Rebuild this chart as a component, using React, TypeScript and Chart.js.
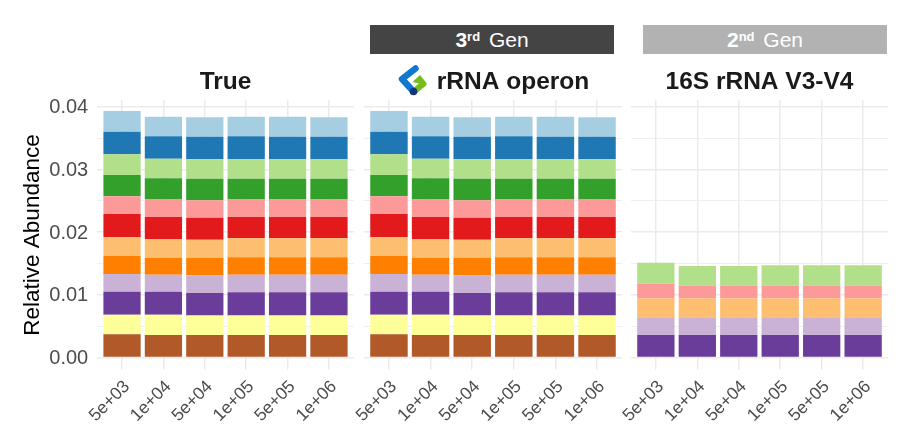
import React, { useEffect, useRef } from "react";
import { Chart, registerables } from "chart.js";

Chart.register(...registerables);

const FONT = "'Liberation Sans', Arial, sans-serif";

const categories = ["5e+03", "1e+04", "5e+04", "1e+05", "5e+05", "1e+06"];
const colors = ["#B15928", "#FFFF99", "#6A3D9A", "#CAB2D6", "#FF7F00", "#FDBF6F", "#E31A1C", "#FB9A99", "#33A02C", "#B2DF8A", "#1F78B4", "#A6CEE3"];

const brown = [0.0037, 0.0036, 0.0036, 0.0036, 0.0036, 0.0036];
const yellow = [0.0031, 0.0032, 0.0031, 0.0031, 0.0031, 0.0031];
const purple = [0.0037, 0.0037, 0.0036, 0.0037, 0.0037, 0.0037];
const lilac = [0.0028, 0.0027, 0.0028, 0.0028, 0.0028, 0.0028];
const orange = [0.0029, 0.0027, 0.0028, 0.0028, 0.0028, 0.0028];
const peach = [0.003, 0.003, 0.0029, 0.003, 0.003, 0.003];
const red = [0.0037, 0.0035, 0.0035, 0.0034, 0.0034, 0.0034];
const pink = [0.0028, 0.0028, 0.0028, 0.0028, 0.0028, 0.0028];
const green = [0.0034, 0.0034, 0.0034, 0.0033, 0.0033, 0.0033];
const lime = [0.0033, 0.0031, 0.0031, 0.0031, 0.0031, 0.0031];
const blue = [0.0036, 0.0036, 0.0036, 0.0037, 0.0036, 0.0036];
const sky = [0.0033, 0.0031, 0.0031, 0.0031, 0.0032, 0.0031];

const trueSeries = [brown, yellow, purple, lilac, orange, peach, red, pink, green, lime, blue, sky];

const v34Purple = [0.0036, 0.0036, 0.0036, 0.0036, 0.0036, 0.0036];
const v34Lilac = [0.0028, 0.0028, 0.0028, 0.0028, 0.0028, 0.0028];
const v34Peach = [0.003, 0.003, 0.003, 0.003, 0.003, 0.003];
const v34Pink = [0.0024, 0.0021, 0.0021, 0.0021, 0.0021, 0.0021];
const v34Lime = [0.0033, 0.0031, 0.0031, 0.0032, 0.0032, 0.0032];
const v34Series = [v34Purple, v34Lilac, v34Peach, v34Pink, v34Lime];
const v34Colors = ["#6A3D9A", "#CAB2D6", "#FDBF6F", "#FB9A99", "#B2DF8A"];

type Panel = {
  title: string; series: number[][]; palette: string[]; left: number; width: number;
  areaLeft: number; areaRight: number; showY: boolean; fullTitle: boolean;
};

const panels: Panel[] = [
  { title: "True", series: trueSeries, palette: colors, left: 0, width: 358, areaLeft: 97.2, areaRight: 353.8, showY: true, fullTitle: false },
  { title: "rRNA operon", series: trueSeries, palette: colors, left: 320, width: 386, areaLeft: 364, areaRight: 622, showY: false, fullTitle: true },
  { title: "16S rRNA V3-V4", series: v34Series, palette: v34Colors, left: 586, width: 310, areaLeft: 631, areaRight: 888, showY: false, fullTitle: false },
];

const BOTTOM = 357.5;

const yTitlePlugin = {
  id: "yTitle",
  afterDraw(chart: any, _a: any, opts: any) {
    if (!opts.text) return;
    const { ctx } = chart;
    ctx.save();
    ctx.translate(opts.x, opts.y);
    ctx.rotate(-Math.PI / 2);
    ctx.font = `22.5px ${FONT}`;
    ctx.fillStyle = "#000000";
    ctx.textAlign = "center";
    ctx.textBaseline = "middle";
    ctx.fillText(opts.text, 0, 0);
    ctx.restore();
  },
};

function PanelChart({ panel }: { panel: Panel }) {
  const ref = useRef<HTMLCanvasElement>(null);
  useEffect(() => {
    const axisWidth = panel.areaLeft - panel.left;
    const rightWidth = panel.left + panel.width - panel.areaRight;
    const chart = new Chart(ref.current!, {
      type: "bar",
      plugins: [yTitlePlugin],
      data: {
        datasets: panel.series.map((vals, i) => ({
          data: vals.map((y, k) => ({ x: k + 1, y })),
          backgroundColor: panel.palette[i],
          borderWidth: 0,
          barPercentage: 0.9,
          categoryPercentage: 1,
        })),
      },
      options: {
        responsive: false,
        animation: false,
        devicePixelRatio: 1,
        layout: { padding: 0 },
        plugins: {
          legend: { display: false },
          tooltip: { enabled: false },
          yTitle: panel.showY ? { text: "Relative Abundance", x: 33, y: 235 } : {},
          title: {
            display: true,
            text: panel.title,
            fullSize: panel.fullTitle,
            color: "#1A1A1A",
            font: { family: FONT, size: 24.5, weight: "bold", lineHeight: 1.2 },
            padding: { top: 67.5, bottom: 3.1 },
          },
        },
        scales: {
          x: {
            type: "linear",
            stacked: true,
            offset: false,
            min: 0.4,
            max: 6.6,
            afterBuildTicks: (s: any) => { s.ticks = categories.map((_, i) => ({ value: i + 1 })); },
            afterFit: (s: any) => { s.height = 439 - BOTTOM; },
            grid: { offset: false, color: "#EBEBEB", lineWidth: 1.5, tickColor: "#EBEBEB", tickLength: 12, drawTicks: true },
            border: { display: false },
            ticks: {
              autoSkip: false,
              minRotation: 45,
              maxRotation: 45,
              color: "#4D4D4D",
              padding: 7,
              labelOffset: 5,
              font: { family: FONT, size: 17.5 },
              callback: (v: any) => categories[Number(v) - 1] ?? "",
            },
          },
          y: {
            stacked: true,
            min: 0,
            max: 0.04107,
            afterBuildTicks: (s: any) => {
              s.ticks = [0, 0.005, 0.01, 0.015, 0.02, 0.025, 0.03, 0.035, 0.04].map((value) => ({ value }));
            },
            afterFit: (s: any) => { s.width = axisWidth; },
            grid: {
              drawTicks: false,
              color: "#EBEBEB",
              lineWidth: (c: any) => (Math.round(c.tick.value * 1000) % 10 === 0 ? 1.5 : 0.8),
            },
            border: { display: false },
            ticks: {
              display: panel.showY,
              color: "#4D4D4D",
              padding: 9,
              labelOffset: 1,
              font: { family: FONT, size: 20 },
              callback: (v: any) => (Math.round(Number(v) * 1000) % 10 === 0 ? Number(v).toFixed(2) : ""),
            },
          },
          spacer: {
            type: "linear",
            position: "right",
            display: true,
            afterFit: (s: any) => { s.width = rightWidth; },
            grid: { display: false },
            border: { display: false },
            ticks: { display: false },
          },
        },
      },
    } as any);
    return () => chart.destroy();
  }, [panel]);
  return (
    <canvas
      ref={ref}
      width={panel.width}
      height={439}
      style={{ position: "absolute", left: panel.left, top: 0, width: panel.width, height: 439 }}
    />
  );
}

function Strip({ left, width, bg, num, sup }: { left: number; width: number; bg: string; num: string; sup: string }) {
  return (
    <div
      style={{
        position: "absolute", left, top: 25, width, height: 29, background: bg, color: "#fff",
        font: `21px/30px ${FONT}`, textAlign: "center", whiteSpace: "pre",
      }}
    >
      <b>{num}<sup style={{ fontSize: 13, lineHeight: 0, verticalAlign: 6 }}>{sup}</sup></b>
      <span style={{ marginLeft: 3 }}> Gen</span>
    </div>
  );
}

export default function App() {
  useEffect(() => {
    document.body.style.margin = "0";
  }, []);
  return (
    <div style={{ position: "relative", width: 901, height: 439, background: "#fff", overflow: "hidden" }}>
      {panels.map((p) => <PanelChart key={p.title} panel={p} />)}
      <Strip left={370} width={244} bg="#444444" num="3" sup="rd" />
      <Strip left={643} width={244} bg="#B2B2B2" num="2" sup="nd" />
      <svg style={{ position: "absolute", left: 396, top: 63 }} width="34" height="34" viewBox="396 63 34 34">
        <path d="M415.5 68.5 L402 79 L413 91" fill="none" stroke="#0F79D0" strokeWidth="6.5" strokeLinejoin="round" strokeLinecap="round" />
        <path d="M420 75 L426.5 83 Q427 84.5 426 85.5 L416 94 L412 89 L419 83.5 L412.5 82 Z" fill="#77BC1F" />
        <circle cx="413.5" cy="91.5" r="3.8" fill="#12357A" />
      </svg>
    </div>
  );
}
